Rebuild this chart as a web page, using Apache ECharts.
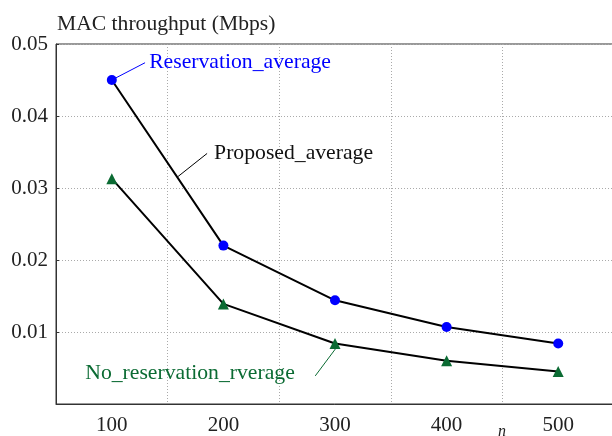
<!DOCTYPE html>
<html><head><meta charset="utf-8">
<script src="https://cdn.jsdelivr.net/npm/echarts@6/dist/echarts.min.js"></script>
<style>html,body{margin:0;padding:0;background:#fff}#c{width:612px;height:436px}</style>
</head><body><div id="c"></div>
<script>
// ---- data ----
const nValues = [100, 200, 300, 400, 500];
const proposedAvg = [0.0450, 0.0220, 0.0144, 0.0107, 0.0084];
const reservationAvg = [0.0450, 0.0220, 0.0144, 0.0107, 0.0084];
const noReservationAvg = [0.0313, 0.0139, 0.0084, 0.0060, 0.0045];
const yTicks = [0, 0.01, 0.02, 0.03, 0.04, 0.05];
const titleText = 'MAC throughput (Mbps)';
const xName = 'n';
// annotations (data coordinates)
const annReservationText = 'Reservation_average';
const annReservationAt = [133.0, 0.0474];
const annReservationLead = [[100, 0.0450], [129.8, 0.0474]];
const annProposedText = 'Proposed_average';
const annProposedAt = [191.2, 0.0348];
const annProposedLead = [[159.4, 0.0316], [185.4, 0.0348]];
const annNoResText = 'No_reservation_rverage';
const annNoResAt = [264.4, 0.0043];
const annNoResLead = [[282.3, 0.0039], [301.1, 0.0078]];

const FONT = 'Liberation Serif';
const BLUE = '#0000ff';
const GREEN = '#0b6b33';
const ANN_SIZE = 21.7;

const pair = (xs, ys) => xs.map((x, i) => [x, ys[i]]);

const textSeries = (at, name, pos, color) => ({
  type: 'scatter', xAxisIndex: 0, silent: true, symbolSize: 1,
  itemStyle: {opacity: 0}, z: 10,
  data: [{value: at, name: name}],
  label: {show: true, position: pos, distance: 0, formatter: p => p.name,
    fontFamily: FONT, fontSize: ANN_SIZE, color: color, opacity: 1}
});

const chart = echarts.init(document.getElementById('c'), null, {renderer: 'canvas'});
chart.setOption({
  animation: false,
  backgroundColor: '#fff',
  title: {
    text: titleText, left: 57, top: 13, padding: 0,
    textStyle: {fontFamily: FONT, fontSize: 21.6, fontWeight: 'normal', color: '#222'}
  },
  grid: {
    left: 56, top: 44, right: -2, bottom: 32,
    containLabel: false, outerBoundsMode: 'none',
    show: true, borderColor: '#333', borderWidth: 1, backgroundColor: 'transparent'
  },
  xAxis: [
    {
      type: 'value', min: 50, max: 550, interval: 100, position: 'bottom',
      axisLine: {show: true, lineStyle: {color: '#333', width: 1}},
      axisTick: {show: false}, axisLabel: {show: false},
      splitLine: {show: true, lineStyle: {color: '#aaa', type: [1, 2], width: 1}}
    },
    {
      type: 'value', min: 50, max: 550, interval: 50, position: 'bottom',
      axisLine: {show: false}, axisTick: {show: false},
      axisLabel: {
        show: true, margin: 11, fontFamily: FONT, fontSize: 21, color: '#222',
        formatter: v => nValues.includes(v) ? String(v) : ''
      },
      splitLine: {show: false}
    }
  ],
  yAxis: {
    type: 'value', min: yTicks[0], max: yTicks[yTicks.length - 1], interval: 0.01,
    axisLine: {show: true, lineStyle: {color: '#333', width: 1}},
    axisTick: {show: true, inside: true, length: 3, lineStyle: {color: '#333'}},
    axisLabel: {
      margin: 8, fontFamily: FONT, fontSize: 21, color: '#222',
      formatter: v => v === 0 ? '' : v.toFixed(2)
    },
    splitLine: {show: true, lineStyle: {color: '#aaa', type: [1, 2], width: 1}}
  },
  graphic: [{
    type: 'text', left: 498, top: 424,
    style: {text: xName, fontFamily: FONT, fontStyle: 'italic', fontSize: 16, fill: '#222'}
  }],
  series: [
    {
      name: 'Proposed_average', type: 'line', xAxisIndex: 0,
      data: pair(nValues, proposedAvg), symbol: 'none',
      lineStyle: {color: '#000', width: 2}, z: 2
    },
    {
      name: 'Reservation_average', type: 'scatter', xAxisIndex: 0,
      data: pair(nValues, reservationAvg), symbol: 'circle', symbolSize: 10,
      itemStyle: {color: BLUE, opacity: 1}, z: 4
    },
    {
      name: 'No_reservation_rverage', type: 'line', xAxisIndex: 0,
      data: pair(nValues, noReservationAvg), symbol: 'triangle', symbolSize: 11,
      showAllSymbol: true,
      itemStyle: {color: GREEN, opacity: 1}, lineStyle: {color: '#000', width: 2}, z: 3
    },
    // leader lines
    {type: 'line', xAxisIndex: 0, data: annReservationLead, symbol: 'none', silent: true,
     lineStyle: {color: BLUE, width: 1}, z: 3},
    {type: 'line', xAxisIndex: 0, data: annProposedLead, symbol: 'none', silent: true,
     lineStyle: {color: '#000', width: 1}, z: 3},
    {type: 'line', xAxisIndex: 0, data: annNoResLead, symbol: 'none', silent: true,
     lineStyle: {color: GREEN, width: 1}, z: 3},
    // annotation texts
    textSeries(annReservationAt, annReservationText, 'right', BLUE),
    textSeries(annProposedAt, annProposedText, 'right', '#111'),
    textSeries(annNoResAt, annNoResText, 'left', GREEN)
  ]
});
</script>
</body></html>
